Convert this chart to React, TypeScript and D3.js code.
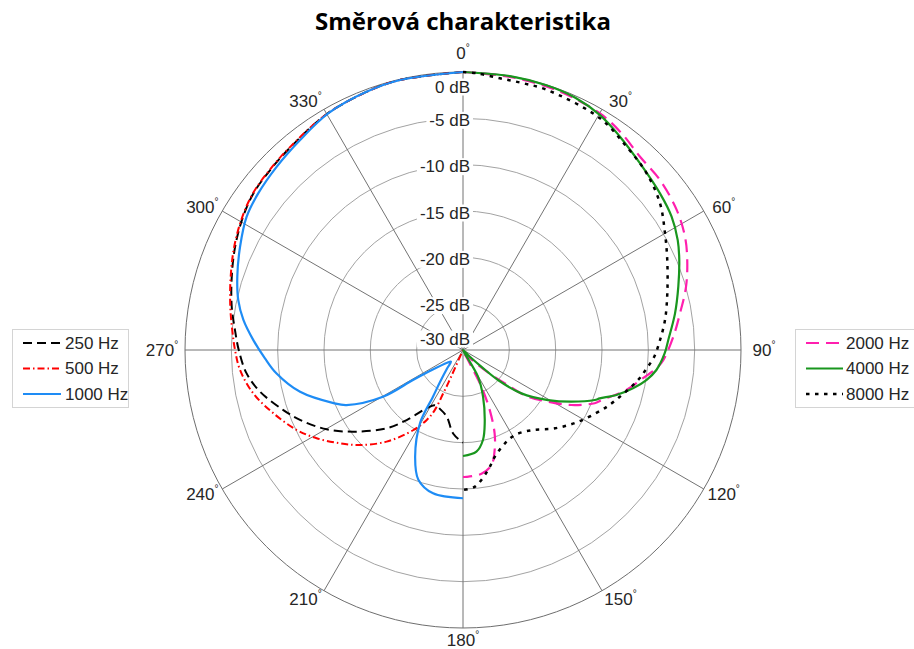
import React, { useEffect, useRef } from "react";
import * as d3 from "d3";

// radial ticks (dB) and angular ticks (deg, clockwise from top)
const rTicks = [0, -5, -10, -15, -20, -25, -30];
const thetaTicks = [0, 30, 60, 90, 120, 150, 180, 210, 240, 270, 300, 330];

// left half: low frequencies
const theta250 = [360, 347, 340, 330, 319, 314, 307, 301, 294.4, 287.6, 280.6, 275, 270, 263.9, 258.4, 251.5, 246.8, 239.8, 232.5, 224.3, 218.8, 211.9, 207, 200, 193.7, 186.6, 180];
const db250 = [0, -0.08, -0.25, -0.6, -1.3, -1.5, -1.75, -2.27, -3.0, -3.82, -4.61, -5.3, -5.8, -6.5, -7.64, -9.56, -10.86, -12.98, -15.53, -18.2, -20.3, -22.6, -23.3, -23.1, -22.6, -20.9, -20.0];

const theta500 = [360, 347, 340, 330, 319, 314, 307, 301, 294.4, 287.6, 280.6, 275, 270, 264.9, 258.3, 251.6, 244.3, 238.9, 232.8, 227.3, 219.8, 211.9, 207.4, 205.2, 204.5, 204, 204, 204];
const db500 = [0, -0.08, -0.25, -0.6, -1.25, -1.45, -1.7, -2.2, -2.9, -3.7, -4.45, -5.0, -5.4, -5.84, -6.89, -8.42, -10.09, -11.56, -13.34, -14.88, -17.13, -19.8, -21.5, -22.8, -24.9, -26.5, -28, -30];

const theta1000 = [360, 346.9, 339.5, 330.4, 322.2, 314.5, 307.4, 301.6, 294.9, 288, 282.5, 277.8, 272.7, 267.6, 262.9, 255.6, 247.7, 244.7, 239.7, 239, 237.2, 231, 226, 221, 215.7, 212.7, 210.5, 204.2, 199, 191.8, 180];
const db1000 = [0, -0.08, -0.25, -0.61, -1.32, -1.8, -2.18, -2.58, -3.48, -4.39, -5.16, -6.08, -7.35, -8.61, -9.7, -11.85, -14.9, -16.1, -20.0, -23.7, -26, -27.8, -28.2, -27.4, -25.75, -24.0, -20.9, -17.4, -15.2, -14.2, -14.0];

// right half: high frequencies
const theta2000 = [0, 10, 20, 30, 36, 42.5, 49.2, 56.8, 63, 68.1, 74.2, 80.4, 86.4, 92.9, 95.4, 98.9, 103.75, 109.9, 112, 116.9, 121.3, 125.7, 128.6, 132.7, 140, 146, 153.3, 153.4, 156, 159.2, 162.4, 166.1, 171.5, 178.5, 180];
const db2000 = [0, -0.1, -0.2, -0.5, -1.0, -1.72, -1.92, -2.43, -3.11, -3.92, -4.99, -6.25, -7.26, -8.36, -9.03, -10.34, -11.85, -14.1, -14.67, -16.88, -19.26, -21.37, -24.24, -26.8, -28.9, -30, -28.4, -25.6, -22.9, -20.4, -18.7, -17.2, -16.5, -16.3, -16.3];

const theta4000 = [0, 10, 17.5, 24, 30.2, 36.35, 43.5, 51.5, 57.4, 62.9, 67.4, 73.6, 80.2, 87.2, 90.9, 95.9, 99.3, 102.7, 106.35, 109.5, 110.8, 115.5, 120.5, 126.6, 130.6, 132.2, 135, 142, 150.7, 156.8, 163.5, 167.5, 172.5, 180];
const db4000 = [0, -0.02, -0.05, -0.2, -0.65, -1.42, -2.24, -2.84, -3.28, -3.97, -4.72, -5.78, -6.78, -7.82, -8.23, -9.02, -9.95, -11.2, -12.75, -14.35, -14.8, -17.04, -19.36, -22.15, -25.03, -27.3, -29.2, -30, -26.7, -24.5, -21.75, -20.05, -18.93, -18.56];

const theta8000 = [0, 2.8, 7.75, 12.7, 17.8, 30.6, 38.8, 46.1, 53.3, 60, 66.2, 74.5, 81.55, 87.1, 92, 95.7, 99.1, 102.3, 105.9, 109.7, 113.4, 121.9, 130.4, 139.35, 148.5, 155.8, 163.3, 168.1, 175, 180];
const db8000 = [0, -0.1, -0.41, -0.49, -0.5, -0.95, -1.84, -2.5, -3.49, -4.83, -5.91, -7.12, -7.96, -8.71, -9.35, -10.08, -10.7, -11.4, -12.2, -12.95, -13.7, -15.35, -16.96, -18.6, -19.25, -18.96, -18.0, -16.8, -15.2, -14.9];

const series = [
  { label: "250 Hz", theta: theta250, db: db250, color: "#000000", dash: "9,5", width: 2, side: "left" },
  { label: "500 Hz", theta: theta500, db: db500, color: "#ff0000", dash: "7,3,1.5,3", width: 2, side: "left" },
  { label: "1000 Hz", theta: theta1000, db: db1000, color: "#1e8cf5", dash: null, width: 2.2, side: "left" },
  { label: "2000 Hz", theta: theta2000, db: db2000, color: "#ff1fae", dash: "13,7", width: 2.2, side: "right" },
  { label: "4000 Hz", theta: theta4000, db: db4000, color: "#19961e", dash: null, width: 2.2, side: "right" },
  { label: "8000 Hz", theta: theta8000, db: db8000, color: "#000000", dash: "3.5,5.5", width: 2.5, side: "right" },
];

const W = 914;
const H = 649;
const cx = 463;
const cy = 350;
const R = 278;
const textColor = "#262626";
const font = "'Liberation Sans', Arial, sans-serif";

export default function App() {
  const ref = useRef<SVGSVGElement>(null);

  useEffect(() => {
    const svg = d3.select(ref.current);
    svg.selectAll("*").remove();

    svg.append("rect").attr("width", W).attr("height", H).attr("fill", "white");

    // title
    svg.append("text")
      .attr("x", cx)
      .attr("y", 30)
      .attr("text-anchor", "middle")
      .attr("font-family", "'Open Sans', sans-serif")
      .attr("font-weight", "bold")
      .attr("font-size", 24)
      .attr("fill", "#000")
      .text("Směrová charakteristika");

    const r = d3.scaleLinear().domain([-30, 0]).range([0, R]).clamp(true);
    const g = svg.append("g").attr("transform", `translate(${cx},${cy})`);

    // rings
    g.selectAll("circle.ring")
      .data(rTicks.filter((d) => d > -30))
      .enter()
      .append("circle")
      .attr("r", (d) => r(d))
      .attr("fill", "none")
      .attr("stroke", (d) => (d === 0 ? "#6e6e6e" : "#a3a3a3"))
      .attr("stroke-width", 1);

    // spokes
    g.selectAll("line.spoke")
      .data(thetaTicks)
      .enter()
      .append("line")
      .attr("x1", 0)
      .attr("y1", 0)
      .attr("x2", (d) => R * Math.sin((d * Math.PI) / 180))
      .attr("y2", (d) => -R * Math.cos((d * Math.PI) / 180))
      .attr("stroke", "#737373")
      .attr("stroke-width", 1);

    // angle labels
    thetaTicks.forEach((d) => {
      const a = (d * Math.PI) / 180;
      const c = Math.cos(a);
      const s = Math.sin(a);
      const ry = c > 0.99 ? 297 : c < -0.99 ? 290 : 287;
      // labels next to the 30/150/210/330 spokes sit a little further out
      const nudge = Math.abs(Math.abs(s) - 0.5) < 0.01 ? Math.sign(s) * 7 : 0;
      const t = g.append("text")
        .attr("x", 301 * s + nudge)
        .attr("y", -ry * c)
        .attr("text-anchor", "middle")
        .attr("dominant-baseline", "central")
        .attr("font-family", font)
        .attr("font-size", 17)
        .attr("fill", textColor);
      t.append("tspan").text(String(d));
      t.append("tspan").attr("font-size", 10).attr("dy", -6).text("°");
    });

    // radial labels with white background
    rTicks.forEach((d) => {
      const off = d === 0 ? 15 : d === -30 ? -11 : 2;
      const lg = g.append("g");
      const t = lg.append("text")
        .attr("x", 7)
        .attr("y", -r(d) + off)
        .attr("text-anchor", "end")
        .attr("dominant-baseline", "central")
        .attr("font-family", font)
        .attr("font-size", 17)
        .attr("fill", textColor)
        .text(`${d} dB`);
      const bb = (t.node() as SVGTextElement).getBBox();
      lg.insert("rect", "text")
        .attr("x", bb.x - 3)
        .attr("y", bb.y + 1)
        .attr("width", bb.width + 6)
        .attr("height", bb.height - 2)
        .attr("fill", "white");
    });

    // curves
    const line = d3.lineRadial<[number, number]>()
      .angle((p) => (p[0] * Math.PI) / 180)
      .radius((p) => r(p[1]))
      .curve(d3.curveCatmullRom.alpha(0.5));

    series.forEach((s) => {
      const pts = s.theta.map((t, i) => [t, s.db[i]] as [number, number]);
      g.append("path")
        .attr("d", line(pts))
        .attr("fill", "none")
        .attr("stroke", s.color)
        .attr("stroke-width", s.width)
        .attr("stroke-dasharray", s.dash)
        .attr("stroke-linejoin", "round");
    });

    // legends
    const legends = [
      { side: "left", x: 12.5, w: 116, lx1: 23, lx2: 61, tx: 65 },
      { side: "right", x: 795.5, w: 130, lx1: 806, lx2: 843, tx: 846 },
    ];
    legends.forEach((L) => {
      const lg = svg.append("g");
      lg.append("rect")
        .attr("x", L.x)
        .attr("y", 329.5)
        .attr("width", L.w)
        .attr("height", 78)
        .attr("fill", "white")
        .attr("stroke", "#d4d4d4");
      series.filter((s) => s.side === L.side).forEach((s, i) => {
        const y = 343 + i * 25.5;
        lg.append("line")
          .attr("x1", L.lx1)
          .attr("x2", L.lx2)
          .attr("y1", y)
          .attr("y2", y)
          .attr("stroke", s.color)
          .attr("stroke-width", s.width)
          .attr("stroke-dasharray", s.dash);
        lg.append("text")
          .attr("x", L.tx)
          .attr("y", y)
          .attr("dominant-baseline", "central")
          .attr("font-family", font)
          .attr("font-size", 17)
          .attr("fill", textColor)
          .text(s.label);
      });
    });
  }, []);

  return (
    <svg
      ref={ref}
      width={W}
      height={H}
      style={{ position: "absolute", left: 0, top: 0 }}
    />
  );
}
